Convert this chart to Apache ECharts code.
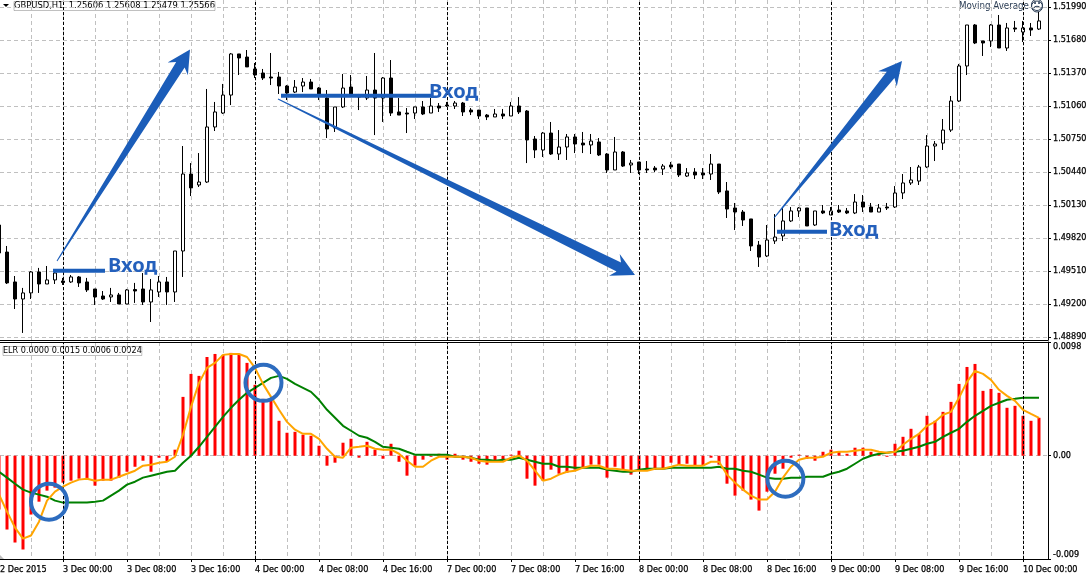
<!DOCTYPE html>
<html><head><meta charset="utf-8">
<style>html,body{margin:0;padding:0;background:#fff}#c{width:1087px;height:575px}</style>
<script src="https://cdn.jsdelivr.net/npm/echarts@6/dist/echarts.min.js"></script>
</head><body><div id="c"></div>
<script>
// [open, close, low, high] per hourly bar
const candles = [
[1.49942,1.49679,1.49679,1.49942],[1.49688,1.49398,1.49388,1.49745],[1.49407,1.49247,1.49153,1.49463],[1.49247,1.49304,1.48928,1.49351],[1.49304,1.49501,1.49247,1.49510],
[1.49501,1.49388,1.49304,1.49539],[1.49388,1.49426,1.49388,1.49557],[1.49426,1.49491,1.49388,1.49501],[1.49416,1.49402,1.49379,1.49445],[1.49407,1.49454,1.49398,1.49472],
[1.49454,1.49398,1.49360,1.49463],[1.49407,1.49332,1.49313,1.49445],[1.49341,1.49266,1.49191,1.49341],[1.49275,1.49247,1.49238,1.49322],[1.49266,1.49285,1.49219,1.49351],
[1.49285,1.49200,1.49200,1.49304],[1.49200,1.49332,1.49200,1.49341],[1.49336,1.49322,1.49210,1.49398],[1.49341,1.49219,1.49191,1.49491],[1.49219,1.49332,1.49031,1.49435],
[1.49313,1.49407,1.49266,1.49463],[1.49407,1.49313,1.49191,1.49454],[1.49313,1.49698,1.49219,1.49698],[1.49698,1.50421,1.49454,1.50684],[1.50421,1.50290,1.50214,1.50524],
[1.50318,1.50346,1.50299,1.50618],[1.50346,1.50863,1.50337,1.51220],[1.50863,1.51004,1.50825,1.51098],[1.50994,1.51163,1.50985,1.51267],[1.51163,1.51549,1.51069,1.51558],
[1.51549,1.51511,1.51351,1.51549],[1.51520,1.51427,1.51427,1.51586],[1.51408,1.51351,1.51323,1.51464],[1.51370,1.51323,1.51304,1.51408],[1.51332,1.51323,1.51257,1.51558],
[1.51332,1.51248,1.51173,1.51380],[1.51248,1.51182,1.51116,1.51257],[1.51191,1.51238,1.51182,1.51304],[1.51248,1.51285,1.51191,1.51323],[1.51285,1.51220,1.51220,1.51314],
[1.51229,1.51173,1.51116,1.51238],[1.51135,1.50844,1.50759,1.51210],[1.50853,1.51051,1.50816,1.51051],[1.51051,1.51229,1.51041,1.51361],[1.51238,1.51154,1.51144,1.51351],
[1.51163,1.51144,1.51022,1.51173],[1.51135,1.51210,1.51116,1.51342],[1.51210,1.51135,1.50787,1.51558],[1.51135,1.51323,1.50910,1.51332],[1.51323,1.50994,1.50966,1.51492],
[1.51004,1.50975,1.50975,1.51135],[1.50994,1.50985,1.50806,1.51041],[1.50994,1.51051,1.50938,1.51051],[1.51051,1.50985,1.50975,1.51107],[1.50994,1.51060,1.50994,1.51135],
[1.51060,1.51041,1.51004,1.51088],[1.51069,1.51060,1.51051,1.51098],[1.51060,1.51088,1.51032,1.51107],[1.51088,1.51004,1.50966,1.51098],[1.51022,1.51004,1.50975,1.51041],
[1.51022,1.50966,1.50938,1.51022],[1.50975,1.50957,1.50928,1.50985],[1.50957,1.50985,1.50957,1.51032],[1.50985,1.50966,1.50938,1.51032],[1.50966,1.51060,1.50966,1.51098],
[1.51060,1.51004,1.50985,1.51144],[1.51013,1.50741,1.50524,1.51022],[1.50750,1.50647,1.50571,1.50778],[1.50647,1.50806,1.50581,1.50816],[1.50806,1.50609,1.50600,1.50910],
[1.50609,1.50675,1.50553,1.50834],[1.50675,1.50769,1.50553,1.50797],[1.50769,1.50703,1.50618,1.50797],[1.50712,1.50694,1.50618,1.50816],[1.50694,1.50731,1.50609,1.50797],
[1.50722,1.50600,1.50590,1.50759],[1.50609,1.50459,1.50431,1.50618],[1.50459,1.50628,1.50459,1.50769],[1.50628,1.50496,1.50487,1.50637],[1.50506,1.50524,1.50431,1.50553],
[1.50534,1.50459,1.50421,1.50534],[1.50468,1.50459,1.50431,1.50543],[1.50477,1.50459,1.50440,1.50496],[1.50468,1.50496,1.50412,1.50515],[1.50506,1.50487,1.50468,1.50534],
[1.50515,1.50412,1.50393,1.50515],[1.50402,1.50431,1.50393,1.50477],[1.50440,1.50412,1.50374,1.50477],[1.50431,1.50412,1.50374,1.50477],[1.50421,1.50515,1.50365,1.50609],
[1.50515,1.50252,1.50233,1.50515],[1.50262,1.50092,1.50008,1.50346],[1.50102,1.50064,1.49895,1.50149],[1.50064,1.49989,1.49933,1.50083],[1.49999,1.49745,1.49698,1.49999],
[1.49754,1.49641,1.49548,1.49792],[1.49651,1.49801,1.49641,1.49942],[1.49792,1.49829,1.49764,1.50045],[1.49839,1.49980,1.49792,1.50102],[1.49980,1.50074,1.49970,1.50111],
[1.50074,1.50102,1.50017,1.50111],[1.50102,1.49933,1.49933,1.50102],[1.49942,1.50074,1.49933,1.50074],[1.50074,1.50055,1.50045,1.50130],[1.50036,1.50074,1.50036,1.50111],
[1.50083,1.50064,1.50055,1.50130],[1.50074,1.50055,1.50045,1.50102],[1.50055,1.50158,1.50045,1.50233],[1.50158,1.50111,1.50064,1.50224],[1.50111,1.50064,1.50064,1.50149],
[1.50064,1.50102,1.50064,1.50139],[1.50111,1.50102,1.50083,1.50149],[1.50111,1.50243,1.50102,1.50308],[1.50243,1.50337,1.50186,1.50421],[1.50337,1.50365,1.50318,1.50487],
[1.50355,1.50487,1.50318,1.50506],[1.50487,1.50684,1.50477,1.50787],[1.50684,1.50703,1.50543,1.50731],[1.50712,1.50834,1.50647,1.50938],[1.50834,1.51107,1.50816,1.51154],
[1.51107,1.51436,1.51098,1.51455],[1.51436,1.51821,1.51351,1.51821],[1.51821,1.51652,1.51642,1.51830],[1.51671,1.51652,1.51530,1.51671],[1.51671,1.51821,1.51614,1.51830],
[1.51821,1.51605,1.51605,1.51915],[1.51605,1.51793,1.51577,1.51840],[1.51793,1.51783,1.51755,1.51859],[1.51755,1.51793,1.51661,1.51859],[1.51793,1.51774,1.51718,1.51840],
[1.51783,1.51859,1.51774,1.51943]];
const elrBars = [
-.00464,-.00636,-.00748,-.00808,-.00507,-.00396,-.00301,-.00275,-.00232,-.00215,
-.00198,-.00198,-.00258,-.00215,-.00215,-.00189,-.00138,-.00095,-.00043,-.00138,
-.00017,-.00052,.00052,.00507,.00705,.00688,.00851,.00877,.00869,.00886,
.00869,.008,.00611,.0049,.00482,.00301,.00198,.00206,.00181,.00172,
.00086,-.00086,-.0006,.00112,.00146,-.00017,.0012,.00052,-.00026,.00103,
-.00052,-.00172,-.00086,-.00034,-.00009,.00017,-.00034,.00017,-.00034,-.00052,
-.00069,-.00077,-.00052,-.00052,.00009,.00043,-.00198,-.00258,-.00215,-.0012,
-.00155,-.00146,-.0012,-.00103,-.00077,-.00077,-.00189,-.00095,-.0012,-.00163,
-.0012,-.00112,-.0012,-.00112,-.0006,-.00077,-.00069,-.00086,-.00086,-.00017,
-.00077,-.00241,-.00344,-.00301,-.00378,-.00473,-.0031,-.00155,-.00112,-.00017,
.00009,-.00026,-.00043,.00034,.00052,.00034,.00017,.00069,.00069,.00034,
.00017,-.00009,.00103,.00163,.00232,.00189,.00344,.00301,.00378,.00464,
.00619,.00765,.00791,.00559,.00576,.00542,.00413,.0043,.00344,.00301,.00327];
const elrFast = [
-.00335,-.00482,-.00619,-.00714,-.00688,-.00568,-.00387,-.0031,-.00267,-.00232,
-.00206,-.00198,-.00215,-.00206,-.00206,-.00181,-.00155,-.00129,-.00086,-.00077,
-.0006,-.00052,-.00009,.00181,.00421,.00628,.00757,.008,.00869,.00877,
.00877,.00851,.00757,.00619,.00507,.00396,.00292,.00224,.00189,.00189,
.00146,.0006,-.00009,-.00017,.00069,.00077,.00086,.0006,.00052,.00052,
.00017,-.00043,-.00095,-.00095,-.00043,-.00009,-.00009,-.00009,-.00009,-.00017,
-.00043,-.00052,-.00052,-.00052,-.00017,0,-.00043,-.00129,-.00215,-.00198,
-.00163,-.00138,-.00129,-.00103,-.00086,-.00086,-.00112,-.00112,-.0012,-.00129,
-.00129,-.00129,-.00112,-.00112,-.00095,-.00077,-.00086,-.00086,-.00086,-.00052,
-.00052,-.00163,-.00232,-.00292,-.00344,-.00378,-.00378,-.0031,-.00189,-.00095,
-.00034,-.00017,-.00017,-.00009,.00026,.00034,.00034,.00043,.00052,.00052,
.00034,.00026,.00034,.00095,.00146,.00189,.00258,.00292,.00353,.00378,
.00499,.00636,.00731,.00705,.00654,.00568,.00516,.00473,.00396,.00361,.00327];
const elrSlow = [
-.00138,-.00189,-.00241,-.00292,-.00318,-.00335,-.00353,-.00387,-.00404,-.00404,
-.00404,-.00404,-.00396,-.00387,-.00344,-.00301,-.00249,-.00224,-.00189,-.00172,
-.00155,-.00138,-.00129,-.0006,0,.00077,.00163,.00249,.00335,.00413,
.00482,.00542,.00585,.00628,.00671,.00688,.00662,.00619,.00585,.0055,
.00482,.00396,.00327,.00258,.00215,.00172,.00155,.0012,.00077,.00069,
.0006,.00034,.00009,.00009,.00009,.00009,.00009,-.00009,-.00009,-.00017,
-.00034,-.00034,-.00043,-.00034,-.00034,-.00017,-.00034,-.00052,-.00069,-.00069,
-.00095,-.00095,-.00103,-.00103,-.00103,-.00103,-.0012,-.00129,-.00138,-.00138,
-.0012,-.00112,-.00112,-.00112,-.00103,-.00103,-.00103,-.00103,-.00103,-.00103,
-.00095,-.00112,-.00112,-.00129,-.00138,-.00163,-.00189,-.00198,-.00198,-.00189,
-.00189,-.00181,-.00181,-.00181,-.00155,-.00138,-.00112,-.00069,-.00026,0,
.00017,.00026,.00034,.00043,.0006,.00077,.00103,.0012,.00163,.00198,
.00232,.00292,.00344,.00387,.0043,.00456,.00482,.0049,.00499,.00499,.00499];
const priceTicks = [1.51990,1.51680,1.51370,1.51060,1.50750,1.50440,1.50130,1.49820,1.49510,1.49200,1.48890];
const elrTicks = [-0.0089,0,0.0098];
const elrTickText = ['-0.009','0.00','0.0098'];
const timeTickBars = [0.125,8,16,24,32,40,48,56,64,72,80,88,96,104,112,120,128];
const timeTickText = ['2 Dec 2015','3 Dec 00:00','3 Dec 08:00','3 Dec 16:00','4 Dec 00:00','4 Dec 08:00','4 Dec 16:00','7 Dec 00:00','7 Dec 08:00','7 Dec 16:00','8 Dec 00:00','8 Dec 08:00','8 Dec 16:00','9 Dec 00:00','9 Dec 08:00','9 Dec 16:00','10 Dec 00:00'];
const gridBars = [4,8,12,16,20,24,28,32,36,40,44,48,52,56,60,64,68,72,76,80,84,88,92,96,100,104,108,112,116,120,124,128];
const dayBars = [8,32,56,80,104,128];
// annotations, in chart coordinates (bar index, price / indicator value)
const arrows = [[7.25,1.49604,23.875,1.51591],[34.875,1.51126,79.5,1.49472],[96.875,1.50008,112.875,1.51483]];
const entries = [[6.75,13.25,1.49513,13.75,1.49557],[35.25,54.125,1.51157,53.875,1.51191],[97.25,103.5,1.49879,103.875,1.49895]];
const entryLabel = 'Вход';
const rings = [[6.25,-0.00396],[33.06,0.00628],[98.3,-0.00198]];

const font = '"DejaVu Sans Condensed","DejaVu Sans",sans-serif';
const fontSize = 9;
const BLUE = '#1B5DB9';
const xMin = 0.125, xMax = 131.125;
const gray = {color:'#c0c0c0',type:[4,3],width:1};
const blackLine = {show:true,onZero:false,lineStyle:{color:'#000',width:1}};
const labelInk = {textBorderColor:'#000',textBorderWidth:0.25};
const idx = a => a.map((v,i)=>[i,v]);
const dayLines = () => ({silent:true,symbol:'none',animation:false,label:{show:false},
  lineStyle:{color:'#000',type:[3,2],width:1},data:dayBars.map(k=>({xAxis:k}))});

const option = {
  animation:false,
  backgroundColor:'#fff',
  grid:[
    {left:0,top:0,width:1048,height:340,show:false,containLabel:false,outerBoundsMode:'none'},
    {left:0,top:342,width:1048,height:217,show:false,containLabel:false,outerBoundsMode:'none'}
  ],
  xAxis:[
    {type:'value',gridIndex:0,position:'bottom',min:xMin,max:xMax,axisLine:blackLine,axisTick:{show:false,customValues:gridBars},axisLabel:{show:false},splitLine:{show:true,lineStyle:gray}},
    {type:'value',gridIndex:1,position:'top',min:xMin,max:xMax,axisLine:blackLine,axisTick:{show:false,customValues:gridBars},axisLabel:{show:false},splitLine:{show:true,lineStyle:gray}},
    {type:'value',gridIndex:1,position:'bottom',min:xMin,max:xMax,axisLine:blackLine,splitLine:{show:false},
      axisTick:{show:true,length:3,customValues:timeTickBars.slice(1),lineStyle:{color:'#000'}},
      axisLabel:{show:true,customValues:timeTickBars,margin:6,align:'left',color:'#000',fontFamily:font,fontSize,hideOverlap:false,...labelInk,
        formatter:v=>timeTickText[timeTickBars.indexOf(v)]}}
  ],
  yAxis:[
    {type:'value',gridIndex:0,position:'right',min:1.488618,max:1.520558,
      axisLine:blackLine,
      axisTick:{show:true,length:3,customValues:priceTicks,lineStyle:{color:'#000'}},
      axisLabel:{show:true,customValues:priceTicks,margin:5,color:'#000',fontFamily:font,fontSize,hideOverlap:false,padding:[2,0,0,0],...labelInk,formatter:v=>v.toFixed(5)},
      splitLine:{show:true,lineStyle:gray}},
    {type:'value',gridIndex:1,position:'right',min:-0.0089,max:0.0098,
      axisLine:blackLine,
      axisTick:{show:true,length:3,customValues:elrTicks,lineStyle:{color:'#000'}},
      axisLabel:{show:true,customValues:elrTicks,margin:5,color:'#000',fontFamily:font,fontSize,hideOverlap:false,...labelInk,
        verticalAlignMinLabel:'bottom',verticalAlignMaxLabel:'top',
        formatter:v=>elrTickText[elrTicks.indexOf(v)]},
      splitLine:{show:true,lineStyle:gray}}
  ],
  series:[
    {type:'line',name:'days',xAxisIndex:0,yAxisIndex:0,data:[],z:1,markLine:dayLines()},
    {type:'line',name:'days2',xAxisIndex:1,yAxisIndex:1,data:[],z:1,markLine:dayLines()},
    {type:'candlestick',name:'GBPUSD,H1',xAxisIndex:0,yAxisIndex:0,z:3,barWidth:4,clip:false,
      data:candles.map((c,i)=>[i,c[0],c[1],c[2],c[3]]),
      itemStyle:{color:'#fff',color0:'#000',borderColor:'#000',borderColor0:'#000',borderColorDoji:'#000',borderWidth:1}},
    {type:'bar',name:'ELR',xAxisIndex:1,yAxisIndex:1,z:3,barWidth:3,clip:false,data:idx(elrBars),itemStyle:{color:'#ff0000'}},
    {type:'line',name:'slow',xAxisIndex:1,yAxisIndex:1,z:4,showSymbol:false,data:idx(elrSlow),lineStyle:{color:'#008000',width:2}},
    {type:'line',name:'fast',xAxisIndex:1,yAxisIndex:1,z:5,showSymbol:false,data:idx(elrFast),lineStyle:{color:'#ffa500',width:2}},
    {type:'custom',name:'arrows',xAxisIndex:0,yAxisIndex:0,z:8,clip:false,data:arrows,encode:{x:[0,2],y:[1,3]},silent:true,
      renderItem:(p,api)=>{
        const a=api.coord([api.value(0),api.value(1)]),b=api.coord([api.value(2),api.value(3)]);
        const dx=b[0]-a[0],dy=b[1]-a[1],len=Math.hypot(dx,dy),ux=dx/len,uy=dy/len,nx=-uy,ny=ux;
        const L=23,H=12,neck=18,w=5;
        const pt=(t,s)=>[a[0]+ux*t+nx*s,a[1]+uy*t+ny*s];
        return {type:'polygon',shape:{points:[pt(0,.5),pt(len-neck,w),pt(len-L,H),pt(len,0),pt(len-L,-H),pt(len-neck,-w),pt(0,-.5)]},style:{fill:BLUE}};
      }},
    {type:'custom',name:'entries',xAxisIndex:0,yAxisIndex:0,z:7,clip:false,data:entries,encode:{x:[0,1],y:2},silent:true,
      renderItem:(p,api)=>{
        const a=api.coord([api.value(0),api.value(2)]),b=api.coord([api.value(1),api.value(2)]),t=api.coord([api.value(3),api.value(4)]);
        return {type:'group',children:[
          {type:'line',shape:{x1:a[0],y1:a[1],x2:b[0],y2:b[1]},style:{stroke:BLUE,lineWidth:4}},
          {type:'text',style:{x:t[0]-1,y:t[1],text:entryLabel,fill:'#2460BC',font:'bold 20px "Noto Sans"',textVerticalAlign:'middle',verticalAlign:'middle'}}
        ]};
      }},
    {type:'custom',name:'rings',xAxisIndex:1,yAxisIndex:1,z:8,clip:false,data:rings,encode:{x:0,y:1},silent:true,
      renderItem:(p,api)=>{
        const c=api.coord([api.value(0),api.value(1)]);
        return {type:'ellipse',shape:{cx:c[0],cy:c[1],rx:18,ry:18},style:{fill:null,stroke:'#2D6CBF',lineWidth:4}};
      }}
  ],
  graphic:[
    {type:'polygon',silent:true,shape:{points:[[3,4],[9,4],[6,7]]},style:{fill:'#000'}},
    {type:'text',silent:true,x:14,y:6,style:{text:'GBPUSD,H1  1.25606 1.25608 1.25479 1.25566',fill:'#000',font:'9.3px '+font,verticalAlign:'middle',textBorderColor:'#000',textBorderWidth:0.25}},
    {type:'text',silent:true,x:3,y:351,style:{text:'ELR 0.0000 0.0015 0.0006 0.0024',fill:'#000',font:fontSize+'px '+font,verticalAlign:'middle',textBorderColor:'#000',textBorderWidth:0.25}},
    {type:'text',silent:true,x:959,y:6,style:{text:'Moving Average',fill:'#2b3d55',font:'9.7px '+font,verticalAlign:'middle'}},
    {type:'circle',silent:true,shape:{cx:1037,cy:6.5,r:5.5},style:{fill:'#fff',stroke:'#2b3d55',lineWidth:1}},
    {type:'text',silent:true,x:1037,y:6.5,style:{text:'☹',fill:'#2b3d55',font:'14px "DejaVu Sans"',align:'center',verticalAlign:'middle'}},
    {type:'polygon',silent:true,shape:{points:[[0,555],[4,559],[0,559]]},style:{fill:'#bbbbbb'}}
  ]
};
const chart = echarts.init(document.getElementById('c'),null,{renderer:'canvas',width:1087,height:575});
chart.setOption(option);
</script></body></html>
